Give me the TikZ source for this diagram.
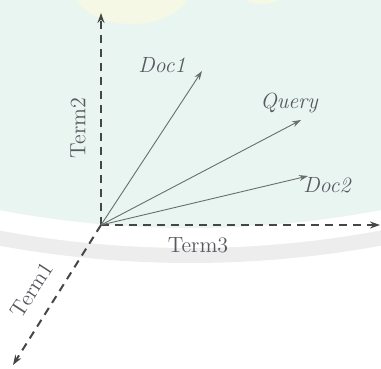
\documentclass[tikz,border=0pt]{standalone}
\usetikzlibrary{arrows.meta}
\definecolor{figFondo}{RGB}{233,245,240}
\definecolor{figBanda}{RGB}{236,237,236}
\definecolor{figAmarillo}{RGB}{246,248,230}
\definecolor{figEje}{RGB}{70,70,70}
\definecolor{figVector}{RGB}{105,110,108}
\definecolor{figTexto}{RGB}{88,88,96}
\tikzset{
  eje/.style={-{Stealth[length=5pt,width=3.5pt]}, dash pattern=on 4pt off 3pt,
    line width=1pt, draw=figEje},
  vector/.style={-{Stealth[length=4.5pt,width=3pt]}, line width=0.45pt, draw=figVector},
  etiqueta/.style={font=\fontsize{11}{13}\selectfont, text=figTexto, inner sep=1pt},
  etiquetai/.style={etiqueta, font=\fontsize{11}{13}\selectfont\itshape}
}

\begin{document}
\begin{tikzpicture}[x=0.5pt, y=-0.5pt]
  \useasboundingbox (0,0) rectangle (381,369);
  \begin{scope}
    \clip (0,0) rectangle (381,369);
    \fill[figBanda] (190,-784) circle[radius=1047];
    \fill[white] (190,-784) circle[radius=1032];
    \fill[figFondo] (190,-784) circle[radius=1012];
    \fill[figAmarillo] (132,-18) ellipse[x radius=62, y radius=42];
    \fill[figAmarillo] (262,-22) ellipse[x radius=32, y radius=26];
  \end{scope}

  \coordinate (o) at (101,225);
  \coordinate (t1) at (13,365);
  \coordinate (t2) at (101,13);
  \coordinate (t3) at (380,225);
  \coordinate (d1) at (202,71);
  \coordinate (q) at (301,120);
  \coordinate (d2) at (308,176);

  \draw[eje] (o) -- (t2);
  \draw[eje] (o) -- (t3);
  \draw[eje] (o) -- (t1);

  \draw[vector] (o) -- (d1);
  \draw[vector] (o) -- (q);
  \draw[vector] (o) -- (d2);

  \node[etiqueta, rotate=90] (term2) at (78,128) {Term2};
  \node[etiqueta] (term3) at (198,245) {Term3};
  \node[etiqueta, rotate=57] (term1) at (32,290) {Term1};
  \node[etiquetai] (doc1) at (162,65) {Doc1};
  \node[etiquetai] (query) at (289,103) {Query};
  \node[etiquetai] (doc2) at (327,185) {Doc2};
\end{tikzpicture}
\end{document}
